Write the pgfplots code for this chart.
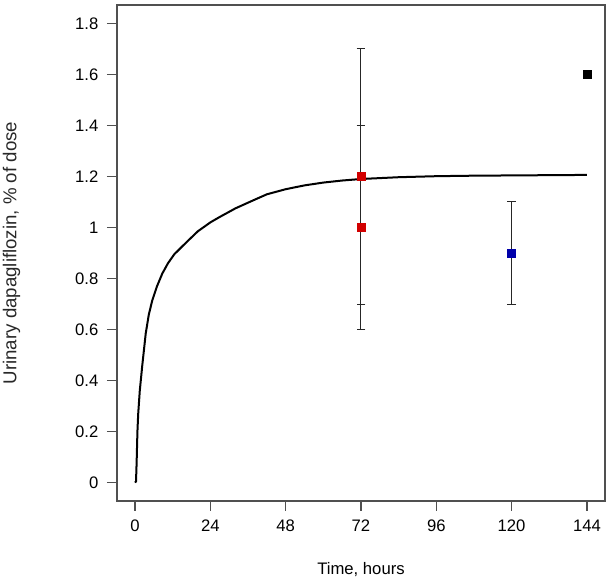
\documentclass[border=0pt]{standalone}
\usepackage{fontspec}
\setmainfont{Liberation Sans}
\usepackage{pgfplots}
\pgfplotsset{compat=1.18}
\definecolor{ptred}{RGB}{210,0,0}
\definecolor{ptblue}{RGB}{0,0,170}
\definecolor{axgray}{RGB}{80,80,80}
\definecolor{labgray}{RGB}{40,40,40}

\begin{document}
\begin{tikzpicture}
\begin{axis}[
  scale only axis,
  width=366pt, height=372pt,
  xmin=-5.76, xmax=149.76,
  ymin=-0.072, ymax=1.872,
  xtick={0,24,48,72,96,120,144},
  ytick={0,0.2,0.4,0.6,0.8,1,1.2,1.4,1.6,1.8},
  yticklabels={0,0.2,0.4,0.6,0.8,1,1.2,1.4,1.6,1.8},
  tick align=outside,
  major tick length=7.5pt,
  tick style={axgray, line width=0.9pt},
  axis line style={axgray, line width=1pt},
  xtick pos=bottom, ytick pos=left,
  /pgf/number format/assume math mode=true,
  ticklabel style={font=\fontsize{12.5}{14}\selectfont},
  xticklabel style={yshift=-3pt},
  yticklabel style={xshift=-3pt},
  every axis x label/.style={at={(axis description cs:0.5,0)}, anchor=north, yshift=-46pt, inner sep=0pt, font=\fontsize{12.5}{14}\selectfont},
  every axis y label/.style={at={(axis description cs:0,0.5)}, rotate=90, anchor=south, yshift=72.3pt, inner sep=0pt, text=labgray, font=\fontsize{14}{16}\selectfont},
  xlabel={Time, hours},
  ylabel={Urinary dapagliflozin, \% of dose},
  clip=false,
]
% model curve
\addplot[black, line width=1.5pt, no marks] coordinates {
  (0,0) (0.3,0.005) (0.5,0.08) (0.75,0.2) (1,0.27) (1.5,0.36) (2.3,0.46)
  (3.4,0.585) (4.4,0.66) (5.5,0.715) (7,0.77) (8.7,0.82) (10.5,0.86)
  (12.5,0.895) (16.2,0.94) (20,0.985) (24,1.02) (26.8,1.04) (32,1.075)
  (37.4,1.105) (42,1.13) (48,1.15) (54,1.165) (60,1.176) (66,1.184)
  (72,1.19) (84,1.197) (96,1.201) (108,1.203) (120,1.204) (132,1.205) (144,1.206)
};
% observed: red
\addplot[only marks, mark=square*, mark size=3pt, color=ptred,
  error bars/.cd, y dir=both, y explicit,
  error bar style={black!85, line width=0.75pt},
  error mark options={black!85, line width=0.7pt, mark size=3.3pt, rotate=90}]
  coordinates {
  (72,1.2) +- (0,0.5)
  (72,1.0) +- (0,0.4)
};
% observed: blue
\addplot[only marks, mark=square*, mark size=3pt, color=ptblue,
  error bars/.cd, y dir=both, y explicit,
  error bar style={black!85, line width=0.75pt},
  error mark options={black!85, line width=0.7pt, mark size=3.3pt, rotate=90}]
  coordinates {
  (120,0.9) +- (0,0.2)
};
% observed: black
\addplot[only marks, mark=square*, mark size=3pt, color=black] coordinates {
  (144,1.6)
};
\end{axis}
\path (current axis.north east) ++(4.5pt,3.75pt);
\path (current axis.south west) ++(-87.75pt,-59.25pt);
\end{tikzpicture}
\end{document}
